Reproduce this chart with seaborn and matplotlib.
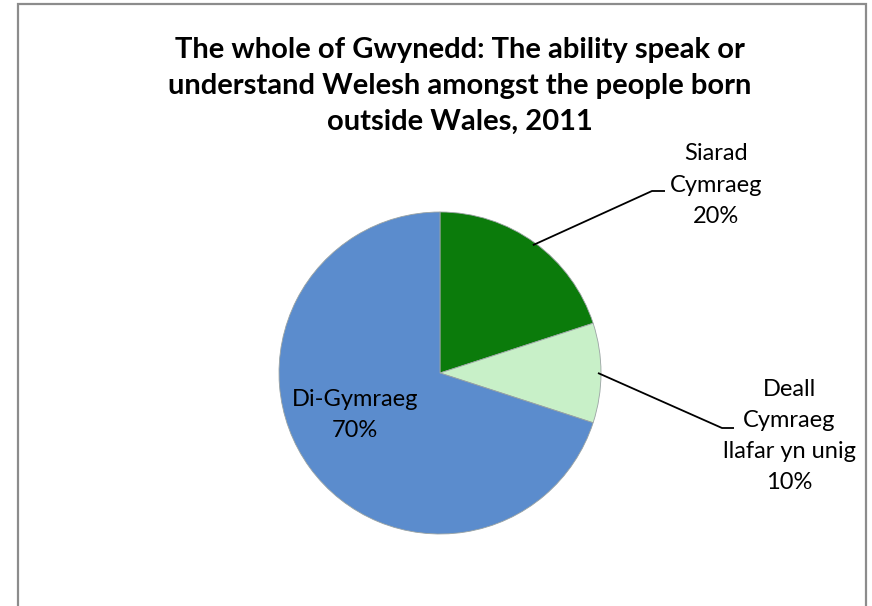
import numpy as np
import matplotlib
matplotlib.use("Agg")
import matplotlib.pyplot as plt
import seaborn as sns
from matplotlib.patches import Rectangle

sns.set_theme(style="white")
plt.rcParams["font.family"] = ["Lato", "DejaVu Sans"]
plt.rcParams["text.color"] = "black"

# Language ability among Gwynedd residents born outside Wales (2011)
categories = ["Siarad\nCymraeg", "Deall\nCymraeg\nllafar yn unig", "Di-Gymraeg"]
shares = [20, 10, 70]
colors = ["#0b7b0b", "#c8f0c8", "#5b8ccd"]

W, H = 872, 606
fig = plt.figure(figsize=(W / 100, H / 100), dpi=100)
ax = fig.add_axes([0, 0, 1, 1])

cx, cy, r = 440, H - 373, 161
wedges, _ = ax.pie(shares, colors=colors, startangle=90, counterclock=False,
                   center=(cx, cy), radius=r, frame=True,
                   wedgeprops=dict(edgecolor="#9aa3a3", linewidth=0.6))
ax.set_xlim(0, W)
ax.set_ylim(0, H)
ax.set_aspect("equal")
ax.axis("off")

# outer chart frame
ax.add_patch(Rectangle((18, -5), 848, H - 4 + 5, fill=False,
                       edgecolor="#8c8c8c", linewidth=1.6))

ax.text(460, H - 86, "The whole of Gwynedd: The ability speak or\n"
        "understand Welesh amongst the people born\noutside Wales, 2011",
        ha="center", va="center", fontsize=21, fontweight="bold",
        linespacing=1.46, color="black")

def mid_point(w, rad):
    ang = np.deg2rad((w.theta1 + w.theta2) / 2)
    return cx + rad * np.cos(ang), cy + rad * np.sin(ang)

# outside labels with leader lines: (slice, elbow, end, text centre)
outside = [
    (0, (652, H - 191), (665, H - 191), (716, H - 185)),
    (1, (722, H - 428), (734, H - 428), (789, H - 436)),
]
for idx, elbow, end, txt in outside:
    sx, sy = mid_point(wedges[idx], r - 3)
    ax.plot([sx, elbow[0], end[0]], [sy, elbow[1], end[1]],
            color="black", linewidth=1.3, solid_capstyle="butt")
    ax.text(txt[0], txt[1], f"{categories[idx]}\n{shares[idx]}%",
            ha="center", va="center", fontsize=17, linespacing=1.6,
            color="black")

# inside label for the largest slice
ax.text(355, H - 415, f"{categories[2]}\n{shares[2]}%",
        ha="center", va="center", fontsize=17, linespacing=1.6,
        color="black")

fig.savefig("out.png", dpi=100)
